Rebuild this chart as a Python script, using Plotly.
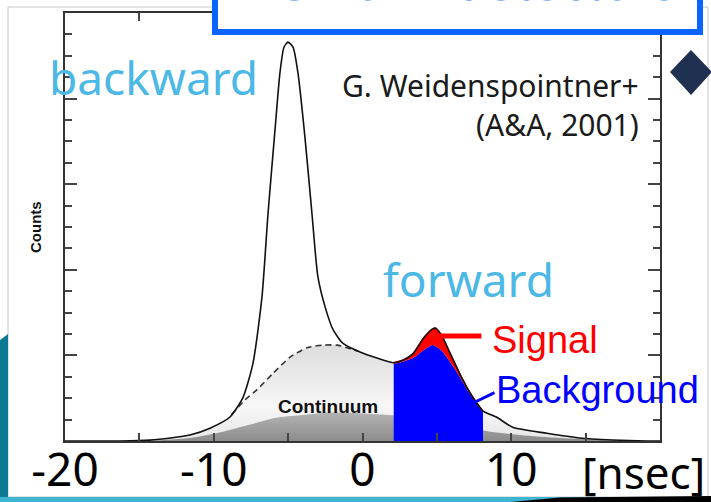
import plotly.graph_objects as go

# ---------------- data ----------------
# total TOF spectrum (solid line), time in ns, counts in arbitrary units
total_t = [-20, -16.3, -14.3, -12.9, -11.6, -10.25, -8.91, -8.03, -7.36, -6.76, -6.35, -5.88,
           -5.55, -5.28, -5.01, -4.67, -4.34, -3.87, -3.4, -3.0, -2.52, -1.98, -1.31, -0.17,
           0.97, 2.1, 2.75, 3.4, 4.1, 4.65, 4.87, 5.3, 5.9, 6.5, 7.1, 7.7, 8.1,
           9.0, 10.1, 12.4, 14.6, 16.8, 19.1, 20]
total_v = [0.0, 0.0, 0.01, 0.035, 0.07, 0.15, 0.28, 0.51, 0.91, 1.68, 2.66, 3.64,
           4.30, 4.60, 4.66, 4.60, 4.30, 3.55, 2.66, 1.92, 1.57, 1.30, 1.14, 1.04,
           0.97, 0.915, 0.946, 1.02, 1.20, 1.30, 1.32, 1.24, 1.02, 0.80, 0.60, 0.44, 0.35,
           0.28, 0.16, 0.09, 0.035, 0.012, 0.0, 0.0]

# continuum under the backward peak (dashed line)
cont_t = [-8.8, -7.9, -7.09, -6.02, -4.87, -3.73, -2.66, -1.71, -1.04, -0.3]
cont_v = [0.31, 0.48, 0.60, 0.79, 0.98, 1.09, 1.12, 1.12, 1.09, 1.05]

# dark grey component at the bottom
dark_t = [-15.6, -13.6, -11.6, -9.6, -7.6, -5.9, -4.2, -2.5, -0.84, 2.05, 5.2, 8.24, 10.6, 13.3, 16.0, 18.7]
dark_v = [0.0, 0.01, 0.035, 0.10, 0.19, 0.27, 0.30, 0.33, 0.33, 0.30, 0.245, 0.12, 0.07, 0.035, 0.012, 0.0]

# forward window: background (blue) under the signal (red)
fwd_t = [2.1, 2.75, 3.4, 4.1, 4.65, 4.87, 5.3, 5.9, 6.5, 7.1, 7.7, 8.1]
bkg_v = [0.90, 0.93, 0.97, 1.06, 1.12, 1.11, 1.06, 0.92, 0.76, 0.58, 0.43, 0.34]

x_tickvals = [-20, -10, 0, 10]
x_ticktext = ["-20", "-10", "0", "10"]
x_minor = [-15, -5, 5, 15]

title_text = "TOF of 2 detectors"

# ---------------- derived ----------------
sig_v = [total_v[total_t.index(t)] for t in fwd_t]
env_t, env_v = [], []
for t, v in zip(total_t, total_v):
    if t < cont_t[0]:
        env_t.append(t); env_v.append(v)
env_t += cont_t; env_v += cont_v
for t, v in zip(total_t, total_v):
    if t > cont_t[-1]:
        env_t.append(t); env_v.append(v)

# pixel -> paper helpers for slide decorations / text placement
L, R, T, B = 65, 660, 13, 441
def X(p): return (p - L) / (R - L)
def Y(p): return (B - p) / (B - T)

fig = go.Figure()

# light grey envelope
fig.add_trace(go.Scatter(x=env_t, y=env_v, mode="lines", line=dict(width=0, shape="spline", smoothing=0.6),
                         fill="tozeroy",
                         fillgradient=dict(type="vertical", start=0, stop=1.15,
                                           colorscale=[[0, "#e6e6e6"], [0.35, "#f7f7f7"], [1, "#dcdcdc"]]),
                         hoverinfo="skip", showlegend=False))
# dark grey component
fig.add_trace(go.Scatter(x=dark_t, y=dark_v, mode="lines", line=dict(width=0, shape="spline", smoothing=0.8),
                         fill="tozeroy",
                         fillgradient=dict(type="vertical", start=0, stop=0.33,
                                           colorscale=[[0, "#8c8c8c"], [1, "#b3b3b3"]]),
                         hoverinfo="skip", showlegend=False))
# background (blue)
fig.add_trace(go.Scatter(x=fwd_t, y=bkg_v, mode="lines", line=dict(width=0, color="#0000ff", shape="spline", smoothing=0.6),
                         fill="tozeroy", fillcolor="#0000ff", hoverinfo="skip", showlegend=False))
# signal (red) between background and total
fig.add_trace(go.Scatter(x=fwd_t, y=sig_v, mode="lines", line=dict(width=1.5, color="#ff0000", shape="spline", smoothing=0.6),
                         fill="tonexty", fillcolor="#ff0000", hoverinfo="skip", showlegend=False))
# continuum dashed
fig.add_trace(go.Scatter(x=cont_t, y=cont_v, mode="lines",
                         line=dict(width=1.6, color="#333333", dash="6px,4px", shape="spline", smoothing=0.6),
                         hoverinfo="skip", showlegend=False))
# total solid
fig.add_trace(go.Scatter(x=total_t, y=total_v, mode="lines",
                         line=dict(width=1.6, color="#111111", shape="spline", smoothing=0.6),
                         hoverinfo="skip", showlegend=False))

shapes = []
# image border
shapes.append(dict(type="rect", xref="paper", yref="paper", x0=X(8), x1=X(708), y0=Y(497), y1=Y(7),
                   line=dict(color="#c8c8c8", width=1), layer="below"))
# title box
shapes.append(dict(type="rect", xref="paper", yref="paper", x0=X(215), x1=X(700), y0=Y(32), y1=Y(-20),
                   line=dict(color="#0a64ff", width=6), fillcolor="white", layer="above"))
# diamond bullet
shapes.append(dict(type="path", xref="paper", yref="paper",
                   path=f"M {X(670)} {Y(72)} L {X(691)} {Y(50)} L {X(712)} {Y(72)} L {X(691)} {Y(95)} Z",
                   fillcolor="#1f3050", line=dict(width=0), layer="above"))
# slide decorations (teal artwork, black wedge)
shapes.append(dict(type="path", xref="paper", yref="paper",
                   path=f"M {X(0)} {Y(340)} L {X(8)} {Y(334)} L {X(8)} {Y(497)} L {X(0)} {Y(497)} Z",
                   fillcolor="#0b7a93", line=dict(width=0), layer="above"))
shapes.append(dict(type="rect", xref="paper", yref="paper", x0=X(0), x1=X(711), y0=Y(503), y1=Y(497),
                   fillcolor="#3fb6d1", line=dict(width=0), layer="above"))
shapes.append(dict(type="path", xref="paper", yref="paper",
                   path=f"M {X(500)} {Y(503)} L {X(560)} {Y(497.5)} L {X(711)} {Y(496)} L {X(711)} {Y(503)} Z",
                   fillcolor="#000000", line=dict(width=0), layer="above"))

comic = "Noto Sans"
ann = []
ann.append(dict(text=title_text, xref="paper", yref="paper", x=X(462), y=Y(-19), xanchor="center", yanchor="middle",
                showarrow=False, font=dict(family=comic, size=50, color="#0a64ff")))
ann.append(dict(text="backward", xref="paper", yref="paper", x=X(153), y=Y(77), xanchor="center", yanchor="middle",
                showarrow=False, font=dict(family=comic, size=46, color="#4bb8e6")))
ann.append(dict(text="forward", xref="paper", yref="paper", x=X(468), y=Y(279), xanchor="center", yanchor="middle",
                showarrow=False, font=dict(family=comic, size=46, color="#4bb8e6")))
ann.append(dict(text="G. Weidenspointner+", xref="paper", yref="paper", x=X(641), y=Y(85), xanchor="right", yanchor="middle",
                showarrow=False, font=dict(family=comic, size=30, color="#1a1a1a")))
ann.append(dict(text="(A&amp;A, 2001)", xref="paper", yref="paper", x=X(641), y=Y(124), xanchor="right", yanchor="middle",
                showarrow=False, font=dict(family=comic, size=30, color="#1a1a1a")))
ann.append(dict(text="[nsec]", xref="paper", yref="paper", x=X(643), y=Y(472), xanchor="center", yanchor="middle",
                showarrow=False, font=dict(family=comic, size=44, color="#000000")))
ann.append(dict(text="Counts", xref="paper", yref="paper", x=X(35), y=Y(227), xanchor="center", yanchor="middle",
                textangle=-90, showarrow=False, font=dict(family="Liberation Sans", size=15, color="#111111", weight="bold")))
ann.append(dict(text="Continuum", xref="paper", yref="paper", x=X(328), y=Y(406), xanchor="center", yanchor="middle",
                showarrow=False, font=dict(family="Liberation Sans", size=19, color="#111111", weight="bold")))
ann.append(dict(text="Signal", xref="paper", yref="paper", x=X(490), y=Y(340), xanchor="left", yanchor="middle",
                showarrow=False, font=dict(family="Liberation Sans", size=38, color="#ff0000")))
ann.append(dict(text="Background", xref="paper", yref="paper", x=X(494), y=Y(390), xanchor="left", yanchor="middle",
                showarrow=False, font=dict(family="Liberation Sans", size=38, color="#0000ff")))
# pointer lines
ann.append(dict(text="", x=5.0, y=1.227, xref="x", yref="y", ax=46, ay=0, showarrow=True,
                arrowhead=0, arrowwidth=5, arrowcolor="#ff0000", standoff=0, startstandoff=0))
ann.append(dict(text="", x=7.43, y=0.444, xref="x", yref="y", ax=23, ay=-11, showarrow=True,
                arrowhead=0, arrowwidth=3, arrowcolor="#0000ff", standoff=0, startstandoff=0))

fig.update_layout(
    width=711, height=502, autosize=False,
    margin=dict(l=L, r=711 - R, t=T, b=502 - B, autoexpand=False),
    paper_bgcolor="white", plot_bgcolor="white",
    shapes=shapes, annotations=ann, showlegend=False,
    xaxis=dict(range=[-20, 20], tickvals=x_tickvals, ticktext=x_ticktext, ticks="inside", ticklen=8,
               tickwidth=1.5, tickcolor="#444444", showline=True, linewidth=2, linecolor="#333333",
               mirror="ticks", showgrid=False, zeroline=False, automargin=False, ticklabelstandoff=-12,
               tickfont=dict(family=comic, size=46, color="#000000"),
               minor=dict(tickvals=x_minor, ticks="inside", ticklen=8, tickwidth=1.5, tickcolor="#444444")),
    yaxis=dict(range=[0, 5], dtick=1, ticks="inside", ticklen=12, tickwidth=1.5, tickcolor="#444444",
               showticklabels=False, showline=True, linewidth=2, linecolor="#333333", mirror="ticks",
               showgrid=False, zeroline=False, automargin=False,
               minor=dict(dtick=0.25, ticks="inside", ticklen=7, tickwidth=1.5, tickcolor="#444444")),
)

fig.write_html("out.html", config={"displayModeBar": False},
               post_script="document.body.style.margin='0';document.body.style.overflow='hidden';")
